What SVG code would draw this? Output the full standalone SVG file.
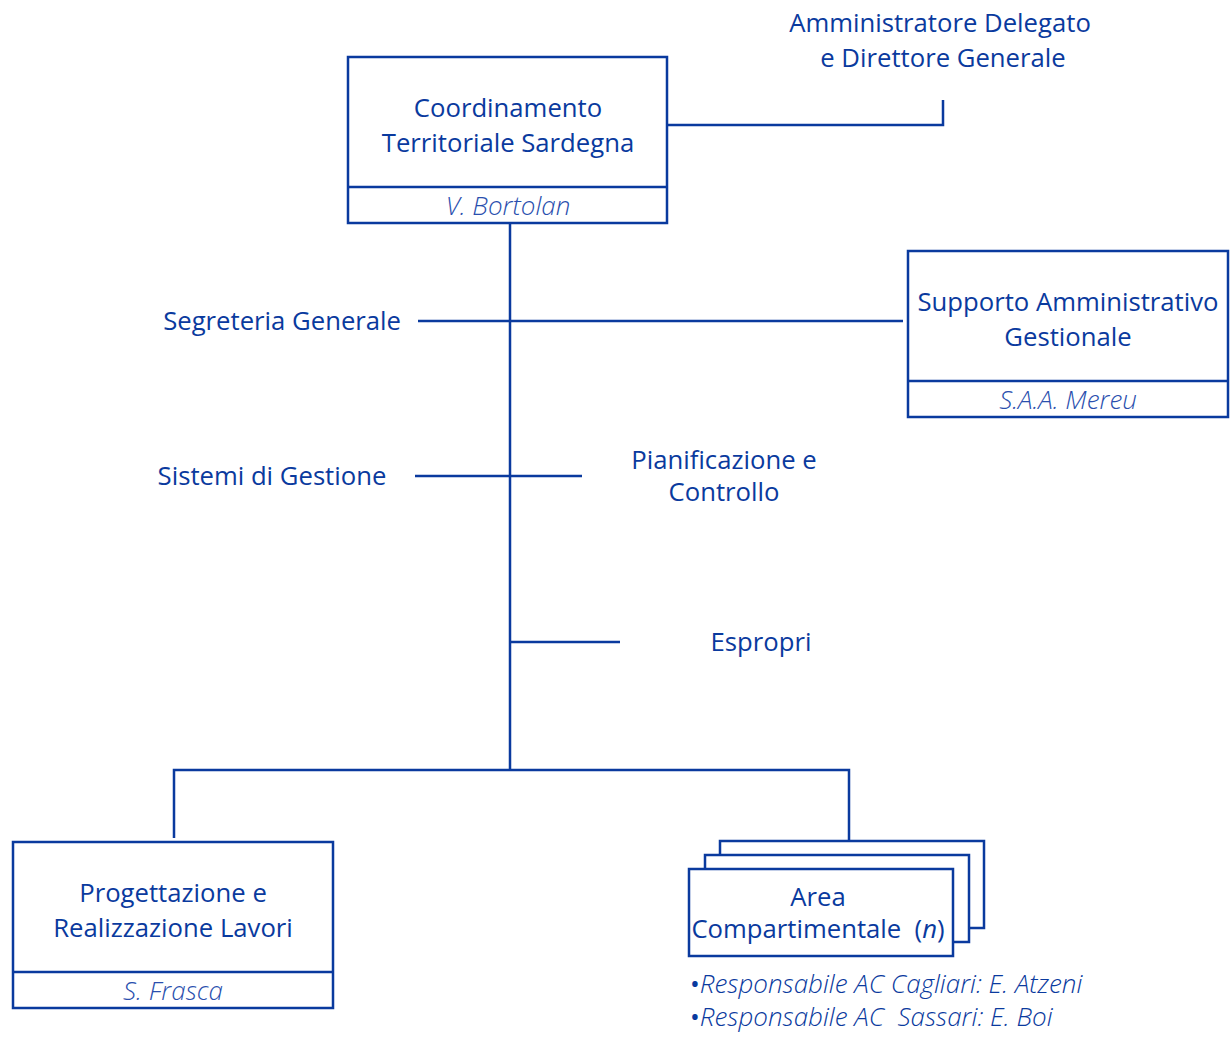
<svg xmlns="http://www.w3.org/2000/svg" width="1230" height="1038" viewBox="0 0 1230 1038">
<style>
.box{fill:#fff;stroke:#0a3a9e;stroke-width:2.5}
.ln{fill:none;stroke:#0a3a9e;stroke-width:2.5}
.t{font-family:"Open Sans","Noto Sans",sans-serif;font-size:25.7px;fill:#0a3a9e;text-anchor:middle;white-space:pre}
.n{font-family:"Open Sans","Noto Sans",sans-serif;font-size:26px;font-style:italic;font-weight:300;fill:#2a4fae;text-anchor:middle}
.b{font-family:"Open Sans","Noto Sans",sans-serif;font-size:26px;font-style:italic;font-weight:300;fill:#0a3a9e;white-space:pre}
.dot{font-style:normal;font-weight:400}
</style>
<rect width="1230" height="1038" fill="#fff"/>
<g id="connectors">
<path class="ln" d="M667 125H943V100"/>
<path class="ln" d="M510 223V770"/>
<path class="ln" d="M418 321H903"/>
<path class="ln" d="M415 476H582"/>
<path class="ln" d="M510 642H620"/>
<path class="ln" d="M174 838V770H849V840"/>
</g>
<g id="ad">
<text class="t" x="940" y="32">Amministratore Delegato</text>
<text class="t" x="943" y="67">e Direttore Generale</text>
</g>
<g id="cts">
<rect class="box" x="348" y="57" width="319" height="166"/>
<line class="ln" x1="348" y1="187" x2="667" y2="187"/>
<text class="t" x="508" y="117">Coordinamento</text>
<text class="t" x="508" y="152">Territoriale Sardegna</text>
<text class="n" x="508" y="215">V. Bortolan</text>
</g>
<g id="seg"><text class="t" x="401" y="330" style="text-anchor:end">Segreteria Generale</text></g>
<g id="sag">
<rect class="box" x="908" y="251" width="320" height="166"/>
<line class="ln" x1="908" y1="381" x2="1228" y2="381"/>
<text class="t" x="1068" y="311">Supporto Amministrativo</text>
<text class="t" x="1068" y="346">Gestionale</text>
<text class="n" x="1068" y="409">S.A.A. Mereu</text>
</g>
<g id="sdg"><text class="t" x="272" y="485">Sistemi di Gestione</text></g>
<g id="pc">
<text class="t" x="724" y="469">Pianificazione e</text>
<text class="t" x="724" y="501">Controllo</text>
</g>
<g id="esp"><text class="t" x="761" y="651">Espropri</text></g>
<g id="prl">
<rect class="box" x="13" y="842" width="320" height="166"/>
<line class="ln" x1="13" y1="972" x2="333" y2="972"/>
<text class="t" x="173" y="902">Progettazione e</text>
<text class="t" x="173" y="937">Realizzazione Lavori</text>
<text class="n" x="173" y="1000">S. Frasca</text>
</g>
<g id="ac">
<rect class="box" x="720" y="841" width="264" height="87"/>
<rect class="box" x="705" y="855" width="264" height="87"/>
<rect class="box" x="689" y="869" width="264" height="87"/>
<text class="t" x="818" y="906">Area</text>
<text class="t" x="818" y="938">Compartimentale  (<tspan font-style="italic">n</tspan>)</text>
<text class="b" x="690" y="993"><tspan class="dot">•</tspan>Responsabile AC Cagliari: E. Atzeni</text>
<text class="b" x="690" y="1026"><tspan class="dot">•</tspan>Responsabile AC  Sassari: E. Boi</text>
</g>
</svg>
